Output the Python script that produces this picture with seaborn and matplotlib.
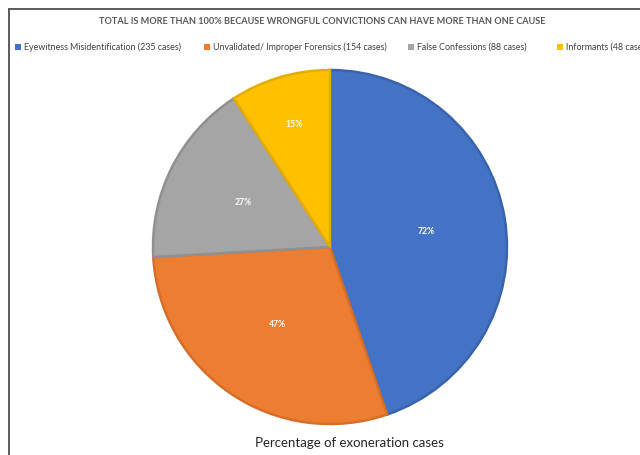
import matplotlib
matplotlib.use("Agg")
import matplotlib.pyplot as plt
import seaborn as sns
import numpy as np
from matplotlib.lines import Line2D
from matplotlib.patches import Rectangle

categories = ["Eyewitness Misidentification", "Unvalidated/ Improper Forensics",
              "False Confessions", "Informants"]
cases = [235, 154, 88, 48]
pct_labels = ["72%", "47%", "27%", "15%"]
title = "TOTAL IS MORE THAN 100% BECAUSE WRONGFUL CONVICTIONS CAN HAVE MORE THAN ONE CAUSE"
xlabel = "Percentage of exoneration cases"

sns.set_theme(style="white")
plt.rcParams['font.family'] = ['Lato', 'DejaVu Sans']

colors = sns.color_palette(["#4472C4", "#ED7D31", "#A5A5A5", "#FFC000"])
edges = ["#3A63AD", "#D56E29", "#909090", "#E5AC00"]
label_radius = [0.55, 0.53, 0.55, 0.72]

W, H = 640, 455
fig = plt.figure(figsize=(W / 100, H / 100), dpi=100)
fig.patch.set_facecolor("white")

cx, cy, r = 330, 247, 177
ax = fig.add_axes([(cx - r) / W, (H - cy - r) / H, 2 * r / W, 2 * r / H])
wedges, texts = ax.pie(cases, colors=colors, startangle=90, counterclock=False,
                       labels=pct_labels, labeldistance=0.55,
                       wedgeprops=dict(linewidth=1.8),
                       textprops=dict(color="white", fontsize=6.2, fontweight="bold"))
for w, e, t, lr in zip(wedges, edges, texts, label_radius):
    w.set_edgecolor(e)
    th = np.deg2rad((w.theta1 + w.theta2) / 2)
    t.set_position((lr * np.cos(th), lr * np.sin(th)))
    t.set_ha("center")
    t.set_va("center")
ax.set_xlim(-1.0, 1.0)
ax.set_ylim(-1.0, 1.0)
ax.set_aspect("equal")
ax.axis("off")

# frame (top and left)
fig.add_artist(Line2D([9 / W, 9 / W], [0, 1 - 9 / H], transform=fig.transFigure,
                      color="#404040", lw=1.2))
fig.add_artist(Line2D([9 / W, 1], [1 - 9 / H, 1 - 9 / H], transform=fig.transFigure,
                      color="#404040", lw=1.2))

fig.text(322 / W, 1 - 21 / H, title, ha="center", va="center", fontsize=6.6,
         fontweight="bold", color="#595959")

leg_x = [18, 207, 411, 560]
leg_y = 47
for x, c, name, n in zip(leg_x, colors, categories, cases):
    fig.add_artist(Rectangle(((x - 3) / W, 1 - (leg_y + 3) / H), 6 / W, 6 / H,
                             transform=fig.transFigure, facecolor=c, edgecolor="none"))
    fig.text((x + 6) / W, 1 - leg_y / H, f"{name} ({n} cases)", ha="left", va="center",
             fontsize=6.4, color="#404040")

fig.text(349 / W, 1 - 443 / H, xlabel, ha="center", va="center", fontsize=9.5,
         color="#262626")

fig.savefig("out.png", dpi=100)
